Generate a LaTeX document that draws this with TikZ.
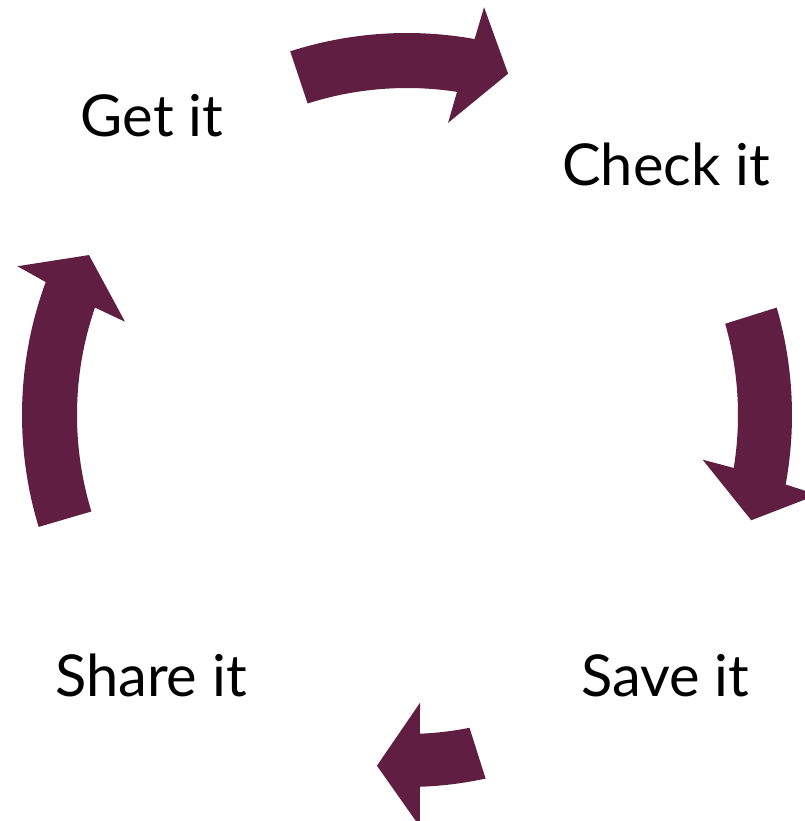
\documentclass[tikz,border=0pt]{standalone}
\usepackage{fontspec}
\setmainfont{Lato}
\usetikzlibrary{positioning}
\definecolor{plum}{RGB}{96,30,66}

\begin{document}
\begin{tikzpicture}[
  x=0.5bp, y=0.5bp,
  lbl/.style={font=\fontsize{29}{35}\selectfont,anchor=base,inner sep=0pt},
  blk/.style={fill=plum,draw=none}
]
\clip (0,0) rectangle (805,821);
\node[lbl] (get)   at (152,684) {Get it};
\node[lbl] (check) at (666,635) {Check it};
\node[lbl] (save)  at (665,124) {Save it};
\node[lbl] (share) at (151,124) {Share it};

\coordinate (hub) at (407,406);
\begin{scope}[shift={(hub)}]
% get -> check
\fill[blk] (107.8:382) arc[start angle=107.8,end angle=79.8,radius=382]
  -- (79.3:415) -- (73.5:356) -- (82.0:295) -- (81.2:327)
  arc[start angle=81.2,end angle=107.7,radius=327] -- cycle;
% check -> save
\fill[blk] (16.2:385) arc[start angle=16.2,end angle=-10.4,radius=385]
  -- (-11:418) -- (-17.0:360) -- (-8.6:299) -- (-9.2:331)
  arc[start angle=-9.2,end angle=16.0,radius=331] -- cycle;
% save -> share
\fill[blk] (-77.8:372) arc[start angle=-77.8,end angle=-88.0,radius=372]
  -- (-88.2:412) -- (-94.9:352) -- (-87.4:288) -- (-87.7:319)
  arc[start angle=-87.7,end angle=-78.7,radius=319] -- cycle;
% share -> get
\fill[blk] (196.9:385) arc[start angle=196.9,end angle=159.8,radius=385]
  -- (159.1:417) -- (153.3:356) -- (161.7:297) -- (161.0:330)
  arc[start angle=161.0,end angle=197.0,radius=330] -- cycle;
\end{scope}
\end{tikzpicture}
\end{document}
